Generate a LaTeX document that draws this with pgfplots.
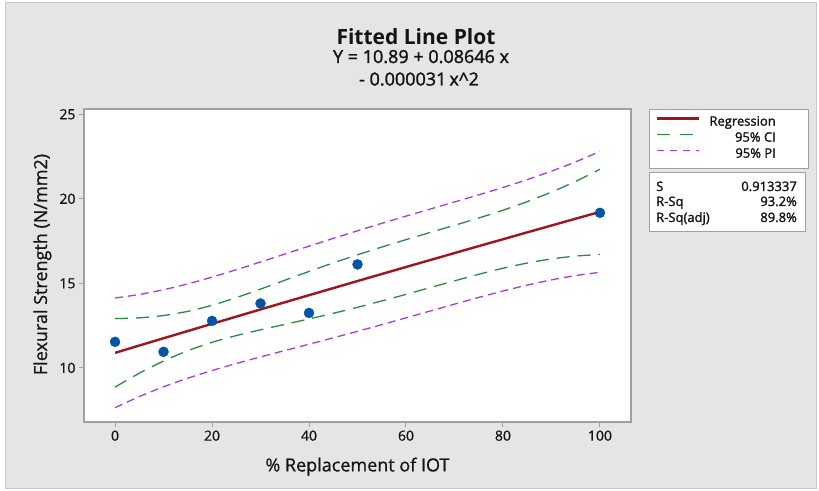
\documentclass[border=0pt]{standalone}
\usepackage{fontspec}
\setmainfont{Open Sans}
\newfontfamily\semib[FakeBold=1.6]{Open Sans}
\newfontfamily\regf[FakeBold=0.7]{Open Sans}
\usepackage{pgfplots}
\usepackage{pgfplotstable}
\pgfplotsset{compat=1.18}
\definecolor{bg}{RGB}{229,229,229}
\definecolor{framegray}{RGB}{200,200,200}
\definecolor{axisgray}{RGB}{160,160,160}
\definecolor{regred}{RGB}{160,20,30}
\definecolor{cigreen}{RGB}{40,140,60}
\definecolor{pipurple}{RGB}{170,60,210}
\definecolor{ptblue}{RGB}{0,85,165}
\definecolor{textc}{RGB}{20,20,20}
\pgfplotstableread{
x fit cil ciu pil piu
0 10.890 8.866 12.914 7.646 14.134
5 11.322 9.683 12.960 8.302 14.341
10 11.752 10.405 13.098 8.881 14.623
15 12.180 11.016 13.343 9.390 14.970
20 12.607 11.511 13.703 9.844 15.369
25 13.032 11.910 14.155 10.259 15.805
30 13.456 12.252 14.660 10.649 16.263
35 13.878 12.572 15.184 11.026 16.730
40 14.299 12.894 15.704 11.400 17.198
45 14.718 13.229 16.207 11.778 17.658
50 15.136 13.583 16.688 12.162 18.109
55 15.552 13.957 17.146 12.556 18.547
60 15.966 14.347 17.585 12.958 18.974
65 16.379 14.748 18.010 13.364 19.394
70 16.790 15.149 18.432 13.770 19.811
75 17.200 15.536 18.864 14.167 20.233
80 17.608 15.892 19.325 14.546 20.670
85 18.015 16.200 19.831 14.896 21.134
90 18.420 16.443 20.398 15.205 21.636
95 18.824 16.613 21.035 15.460 22.188
100 19.226 16.706 21.746 15.651 22.801
}\bands
\pgfplotstableread{
x y
0 11.54
10 10.95
20 12.78
30 13.81
40 13.25
50 16.12
100 19.17
}\pts
\begin{document}
\begin{tikzpicture}[x=1pt,y=1pt]
\fill[white] (0,0) rectangle (819,490);
\filldraw[fill=bg, draw=framegray, line width=1pt] (5,2) rectangle (816,487);
\begin{axis}[
  at={(84pt,68pt)}, anchor=south west,
  scale only axis, width=547pt, height=313pt,
  xmin=-6.4, xmax=106.4, ymin=6.8, ymax=25.31,
  xtick={0,20,40,60,80,100}, ytick={10,15,20,25},
  tick pos=left, tick align=outside, major tick length=5pt,
  axis line style={axisgray, line width=1.2pt},
  tick style={axisgray, line width=1pt},
  axis background/.style={fill=white},
  ticklabel style={font=\regf\fontsize{14}{16}\selectfont, text=textc},
  /pgf/number format/assume math mode=true,
  legend cell align=left,
  legend image code/.code={\draw[#1] (0pt,4pt) -- (42pt,4pt);},
  legend style={at={(1.0329,1)}, anchor=north west, draw=axisgray, fill=white,
    inner xsep=6pt, inner ysep=5.5pt, row sep=0pt, column sep=7pt,
    nodes={inner sep=0pt, text height=11pt, text depth=5pt,
      font=\semib\fontsize{13}{16}\selectfont, text=textc}},
]
\addlegendimage{regred, line width=2.6pt}
\addlegendentry{\makebox[95pt][l]{\makebox[69pt][r]{Regression}}}
\addlegendimage{cigreen, line width=1.2pt, dash pattern=on 13pt off 10pt}
\addlegendentry{\makebox[95pt][l]{\makebox[69pt][r]{95\% CI}}}
\addlegendimage{pipurple, line width=1.2pt, dash pattern=on 7pt off 6pt}
\addlegendentry{\makebox[95pt][l]{\makebox[69pt][r]{95\% PI}}}
\addplot[forget plot, pipurple, line width=1.3pt, dash pattern=on 8pt off 5pt, smooth] table[x=x, y=pil] {\bands};
\addplot[forget plot, pipurple, line width=1.3pt, dash pattern=on 8pt off 5pt, smooth] table[x=x, y=piu] {\bands};
\addplot[forget plot, cigreen, line width=1.3pt, dash pattern=on 13pt off 8pt, smooth] table[x=x, y=cil] {\bands};
\addplot[forget plot, cigreen, line width=1.3pt, dash pattern=on 13pt off 8pt, smooth] table[x=x, y=ciu] {\bands};
\addplot[forget plot, regred, line width=2.4pt, smooth] table[x=x, y=fit] {\bands};
\addplot[forget plot, only marks, mark=*, mark size=5pt, ptblue, mark options={draw=ptblue, fill=ptblue}] table[x=x, y=y] {\pts};
\end{axis}
% stats box
\filldraw[fill=white, draw=axisgray, line width=1pt] (649,317) rectangle (805,258);
\begin{scope}[every node/.style={inner sep=0pt, font=\semib\fontsize{13}{16}\selectfont, text=textc}]
\node[anchor=base west] at (656,299) {S};
\node[anchor=base east] at (797,299) {0.913337};
\node[anchor=base west] at (656,284) {R-Sq};
\node[anchor=base east] at (797,284) {93.2\%};
\node[anchor=base west] at (656,268) {R-Sq(adj)};
\node[anchor=base east] at (797,268) {89.8\%};
\end{scope}
% titles
\node[anchor=base, inner sep=0pt, text=textc, font=\bfseries\fontsize{21}{24}\selectfont] at (416,445) {Fitted Line Plot};
\node[anchor=base, inner sep=0pt, text=textc, font=\semib\fontsize{18}{20}\selectfont] at (421,427) {Y = 10.89 + 0.08646 x};
\node[anchor=base, inner sep=0pt, text=textc, font=\semib\fontsize{18}{20}\selectfont] at (419,404.5) {- 0.000031\,x\textasciicircum 2};
% axis labels
\node[anchor=base, inner sep=0pt, text=textc, font=\regf\fontsize{18}{20}\selectfont] at (357.5,18.6) {\% Replacement of IOT};
\node[anchor=base, rotate=90, inner sep=0pt, text=textc, font=\regf\fontsize{18}{20}\selectfont] at (47,225.5) {Flexural Strength (N/mm2)};
\end{tikzpicture}
\end{document}
